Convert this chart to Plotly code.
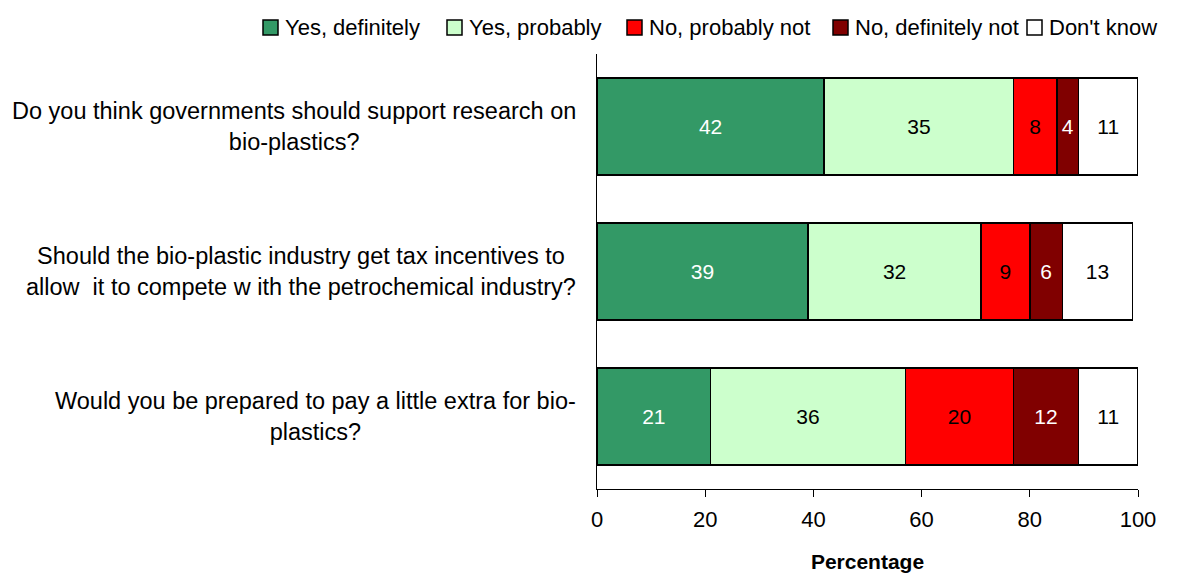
import plotly.graph_objects as go

questions = [
    "Do you think governments should support research on<br>bio-plastics?",
    "Should the bio-plastic industry get tax incentives to<br>allow  it to compete w ith the petrochemical industry?",
    "Would you be prepared to pay a little extra for bio-<br>plastics?",
]
series_names = ["Yes, definitely", "Yes, probably", "No, probably not", "No, definitely not", "Don't know"]
yes_definitely = [42, 39, 21]
yes_probably = [35, 32, 36]
no_probably_not = [8, 9, 20]
no_definitely_not = [4, 6, 12]
dont_know = [11, 13, 11]
x_ticks = [0, 20, 40, 60, 80, 100]

series_values = [yes_definitely, yes_probably, no_probably_not, no_definitely_not, dont_know]
colors = ["#339966", "#CCFFCC", "#FF0000", "#800000", "#FFFFFF"]
text_colors = ["white", "black", "black", "white", "black"]

FONT = "Liberation Sans, Arial, sans-serif"
ypos = list(range(len(questions)))

# figure geometry (pixels)
W, H = 1165, 565
ML, MR, MT, MB = 589, 35, 46, 84
PW, PH = W - ML - MR, H - MT - MB


def px_x(px):
    return (px - ML) / PW


def px_y(py):
    return (H - MB - py) / PH


fig = go.Figure()
for name, vals, c, tc in zip(series_names, series_values, colors, text_colors):
    fig.add_trace(go.Bar(
        y=ypos, x=vals, name=name, orientation="h",
        marker=dict(color=c, line=dict(color="black", width=1.5)),
        text=[str(v) for v in vals], textposition="inside", insidetextanchor="middle",
        textfont=dict(color=tc, size=21, family=FONT),
        hoverinfo="x+name", showlegend=False,
    ))

for i, q in enumerate(questions):
    fig.add_annotation(x=-0.035, xref="paper", y=i, yref="y", text=q, showarrow=False,
                       xanchor="right", yanchor="middle", align="center",
                       font=dict(size=23.5, family=FONT, color="black"))

# legend (drawn as keys + text along the top)
legend_left = [255, 439, 619, 825, 1019]
key_size = 15
legend_cy = 19.5
for name, c, lx in zip(series_names, colors, legend_left):
    fig.add_shape(type="rect", xref="paper", yref="paper",
                  x0=px_x(lx), x1=px_x(lx + key_size),
                  y0=px_y(legend_cy + key_size / 2), y1=px_y(legend_cy - key_size / 2),
                  fillcolor=c, line=dict(color="black", width=1.5))
    fig.add_annotation(x=px_x(lx + key_size + 5), xref="paper", y=px_y(legend_cy), yref="paper",
                       text=name, showarrow=False, xanchor="left", yanchor="middle",
                       font=dict(size=22, family=FONT, color="black"))

fig.update_layout(
    width=W, height=H,
    barmode="stack", bargap=0.33,
    paper_bgcolor="white", plot_bgcolor="white",
    margin=dict(l=ML, r=MR, t=MT, b=MB),
    font=dict(family=FONT, size=20, color="black"),
    showlegend=False,
    xaxis=dict(range=[0, 100], tickvals=x_ticks, ticks="outside", ticklen=7, tickcolor="black",
               showline=True, linecolor="black", linewidth=1, showgrid=False, zeroline=False,
               tickfont=dict(size=22, family=FONT), automargin=False, ticklabelstandoff=4,
               title=dict(text="<b>Percentage</b>", font=dict(size=21, family=FONT), standoff=27)),
    yaxis=dict(range=[2.5, -0.5], showticklabels=False, showline=True, linecolor="black",
               linewidth=1, showgrid=False, zeroline=False, ticks="", automargin=False),
)

fig.write_html("out.html")
